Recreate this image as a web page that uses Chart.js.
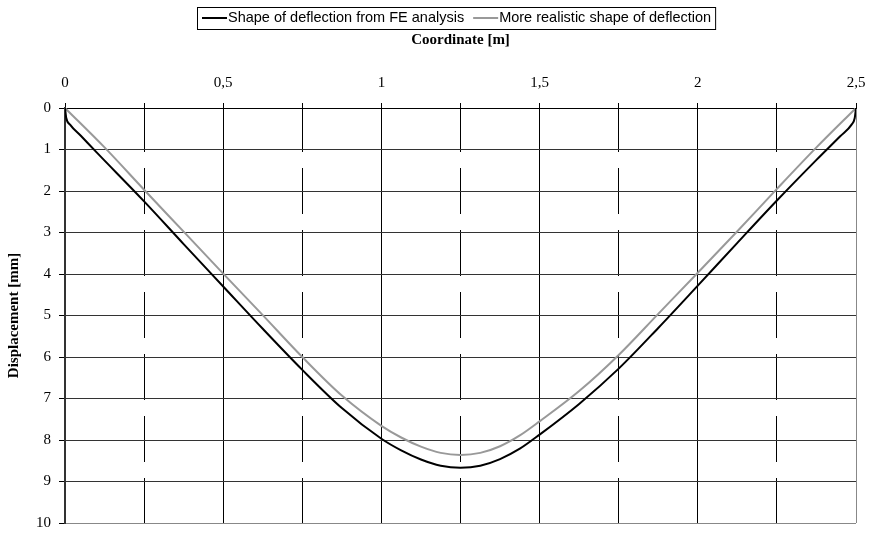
<!DOCTYPE html>
<html>
<head>
<meta charset="utf-8">
<script src="https://cdn.jsdelivr.net/npm/chart.js@4.4.1/dist/chart.umd.min.js"></script>
<style>
  html, body { margin: 0; padding: 0; background: #fff; }
  #wrap { width: 871px; height: 533px; }
</style>
</head>
<body>
<div id="wrap"><canvas id="deflectionChart"></canvas></div>
<script>
// Beam deflection along the span: FE result vs. smoothed realistic shape
const feCoordinates = [0, 0.004, 0.016, 0.05, 0.1, 0.25, 0.375, 0.5, 0.625, 0.75, 0.875, 1.0, 1.0625, 1.125, 1.1875, 1.25,
    1.3125, 1.375, 1.4375, 1.5, 1.625, 1.75, 1.875, 2.0, 2.125, 2.25, 2.375, 2.45, 2.486, 2.496, 2.5];
const feDeflection = [0, 0.24, 0.4, 0.67, 1.07, 2.25, 3.28, 4.3, 5.32, 6.31, 7.23, 7.97, 8.25, 8.47, 8.62, 8.67,
    8.62, 8.46, 8.21, 7.87, 7.13, 6.28, 5.3, 4.28, 3.25, 2.23, 1.25, 0.68, 0.4, 0.24, 0];

const realCoordinates = [0, 0.125, 0.25, 0.375, 0.5, 0.625, 0.75, 0.875, 1.0, 1.0625, 1.125, 1.1875, 1.25,
    1.3125, 1.375, 1.4375, 1.5, 1.625, 1.75, 1.875, 2.0, 2.125, 2.25, 2.375, 2.5];
const realDeflection = [0, 0.95, 1.97, 2.98, 3.99, 4.99, 6.0, 6.93, 7.66, 7.94, 8.16, 8.31, 8.36,
    8.31, 8.15, 7.89, 7.55, 6.82, 5.95, 4.96, 3.97, 2.97, 1.95, 0.95, 0];

const seriesLabels = ['Shape of deflection from FE analysis', 'More realistic shape of deflection'];

const serif = '"Liberation Serif", "Times New Roman", serif';
const sans = '"Liberation Sans", Arial, sans-serif';

const toPoints = (xs, ys) => xs.map((x, i) => ({ x: x, y: ys[i] }));
const isHalfStep = v => Math.abs(v * 2 - Math.round(v * 2)) < 1e-9;

// Legend drawn as a framed row above the axis title
const framedLegend = {
    id: 'framedLegend',
    afterDraw(chart) {
        const ctx = chart.ctx;
        const y = 18;
        let x = 202;
        ctx.save();
        ctx.font = '14.5px ' + sans;
        ctx.textBaseline = 'middle';
        chart.data.datasets.forEach(ds => {
            ctx.strokeStyle = ds.borderColor;
            ctx.lineWidth = 2;
            ctx.beginPath();
            ctx.moveTo(x, y);
            ctx.lineTo(x + 25, y);
            ctx.stroke();
            ctx.fillStyle = '#000';
            ctx.fillText(ds.label, x + 26, y);
            x += 26 + ctx.measureText(ds.label).width + 9;
        });
        ctx.strokeStyle = '#000';
        ctx.lineWidth = 1;
        ctx.strokeRect(197.5, 7.5, x - 9 + 4 - 197, 22);
        ctx.restore();
    }
};

new Chart(document.getElementById('deflectionChart'), {
    type: 'line',
    data: {
        datasets: [{
            label: seriesLabels[0],
            data: toPoints(feCoordinates, feDeflection),
            borderColor: '#000000',
            borderWidth: 2,
            pointRadius: 0,
            cubicInterpolationMode: 'monotone',
        }, {
            label: seriesLabels[1],
            data: toPoints(realCoordinates, realDeflection),
            borderColor: '#999999',
            borderWidth: 2,
            pointRadius: 0,
            cubicInterpolationMode: 'monotone',
        }]
    },
    options: {
        responsive: true,
        maintainAspectRatio: false,
        animation: false,
        layout: { padding: { right: 15, bottom: 10 } },
        plugins: {
            legend: { display: false },
            tooltip: { enabled: false },
        },
        scales: {
            x: {
                type: 'linear',
                position: 'top',
                min: 0,
                max: 2.5,
                // fixed band above the plot; end labels may hang over the edges
                afterFit: scale => {
                    scale.height = 108;
                    scale.paddingLeft = 0;
                    scale.paddingRight = 0;
                },
                title: {
                    display: true,
                    text: 'Coordinate [m]',
                    color: '#000',
                    font: { family: serif, size: 15, weight: 'bold' },
                    padding: { top: 31, bottom: 0 },
                },
                ticks: {
                    stepSize: 0.25,
                    autoSkip: false,
                    maxRotation: 0,
                    padding: 11,
                    color: '#000',
                    font: { family: serif, size: 15 },
                    callback: v => isHalfStep(v) ? String(v).replace('.', ',') : '',
                },
                grid: {
                    color: ctx => (ctx.tick && ctx.tick.value === 2.5) ? '#888' : '#000',
                    lineWidth: 1,
                    tickLength: 5,
                    tickColor: '#000',
                },
                border: {
                    color: '#000',
                    width: 1,
                    dash: ctx => (ctx.tick && !isHalfStep(ctx.tick.value)) ? [46, 16] : [],
                    dashOffset: 3,
                },
            },
            y: {
                type: 'linear',
                reverse: true,
                min: 0,
                max: 10,
                afterFit: scale => {
                    scale.width = 65;
                    scale.paddingTop = 0;
                    scale.paddingBottom = 0;
                },
                title: {
                    display: true,
                    text: 'Displacement [mm]',
                    color: '#000',
                    font: { family: serif, size: 15, weight: 'bold' },
                    padding: { top: 5, bottom: 0 },
                },
                ticks: {
                    stepSize: 1,
                    padding: 8,
                    color: '#000',
                    font: { family: serif, size: 15 },
                },
                grid: {
                    color: ctx => (ctx.tick && ctx.tick.value === 10) ? '#888' : '#333',
                    lineWidth: 1,
                    tickLength: 6,
                    tickColor: '#000',
                },
                border: { color: '#333', width: 2 },
            }
        }
    },
    plugins: [framedLegend]
});
</script>
</body>
</html>
